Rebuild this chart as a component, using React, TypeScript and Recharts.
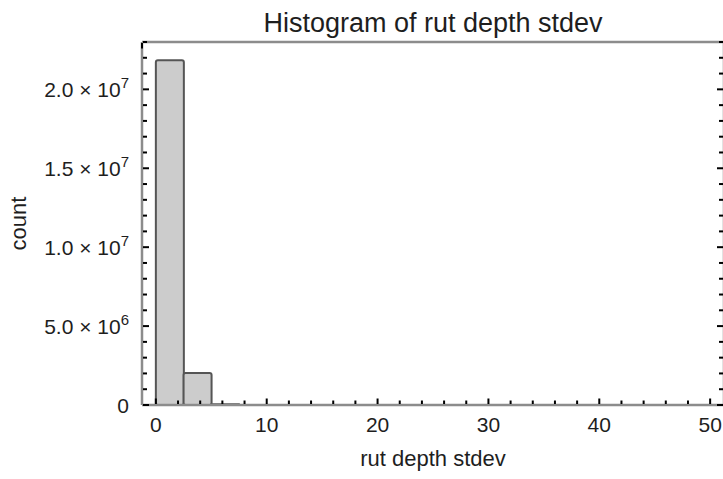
import React from 'react';
import { ComposedChart, Bar, XAxis, YAxis } from 'recharts';

// histogram bins (bin width 2.5), centres and counts
const binCenters = [1.25, 3.75, 6.25];
const binCounts = [21850000, 2030000, 40000];

const xTicks = [0, 2, 4, 6, 8, 10, 12, 14, 16, 18, 20, 22, 24, 26, 28, 30, 32, 34, 36, 38, 40, 42, 44, 46, 48, 50];
const xMajorTicks = [0, 10, 20, 30, 40, 50];

const yTicks = [
    0, 1000000, 2000000, 3000000, 4000000, 5000000, 6000000, 7000000, 8000000, 9000000,
    10000000, 11000000, 12000000, 13000000, 14000000, 15000000, 16000000, 17000000, 18000000,
    19000000, 20000000, 21000000, 22000000, 23000000,
];
const yMajorTicks = [0, 5000000, 10000000, 15000000, 20000000];
const yMantissas = ['0', '5.0', '1.0', '1.5', '2.0'];
const yExponents = ['', '6', '7', '7', '7'];

const data = binCenters.map((x, i) => ({ x, count: binCounts[i] }));

const FONT = '"Liberation Sans", Arial, sans-serif';
const TEXT = '#1e1e1e';
const FRAME = '#8c8c8c';
const TICK = '#000';

const BottomTick = (props: any) => {
    const { x, y, payload } = props;
    const major = xMajorTicks.includes(payload.value);
    return (
        <g>
            <line x1={x} x2={x} y1={y - 1} y2={y - (major ? 6.5 : 4.5)} stroke={TICK} strokeWidth={2} />
            {major && (
                <text x={x} y={y + 27} textAnchor="middle" fontSize={21} fontFamily={FONT} fill={TEXT}>
                    {payload.value}
                </text>
            )}
        </g>
    );
};

const TopTick = (props: any) => {
    const { x, y, payload } = props;
    const major = xMajorTicks.includes(payload.value);
    return <line x1={x} x2={x} y1={y + 1} y2={y + (major ? 6.5 : 4.5)} stroke={TICK} strokeWidth={2} />;
};

const LeftTick = (props: any) => {
    const { x, y, payload } = props;
    const idx = yMajorTicks.indexOf(payload.value);
    const major = idx >= 0;
    return (
        <g>
            <line x1={x + 1} x2={x + (major ? 7 : 5)} y1={y} y2={y} stroke={TICK} strokeWidth={2} />
            {major && (
                <text x={x - 13} y={y + 7.5} textAnchor="end" fontSize={21} fontFamily={FONT} fill={TEXT}>
                    {yExponents[idx] ? `${yMantissas[idx]} \u00d7 10` : yMantissas[idx]}
                    {yExponents[idx] && (
                        <tspan dy={-9} fontSize={15}>{yExponents[idx]}</tspan>
                    )}
                </text>
            )}
        </g>
    );
};

const RightTick = (props: any) => {
    const { x, y, payload } = props;
    const major = yMajorTicks.includes(payload.value);
    return <line x1={x - 1} x2={x - (major ? 7 : 5)} y1={y} y2={y} stroke={TICK} strokeWidth={2} />;
};

const App: React.FC = () => {
    return (
        <div style={{ position: 'absolute', left: 0, top: 0, width: 723, height: 479, overflow: 'hidden', background: '#fff' }}>
            <ComposedChart
                width={726}
                height={479}
                data={data}
                margin={{ top: 41, right: 1, bottom: 0, left: 0 }}
                barCategoryGap={0}
                barGap={0}
            >
                <XAxis
                    xAxisId="bottom"
                    dataKey="x"
                    type="number"
                    domain={[-1.25, 51.25]}
                    allowDataOverflow
                    ticks={xTicks}
                    interval={0}
                    height={74}
                    tickSize={0}
                    tickMargin={0}
                    tickLine={false}
                    tick={<BottomTick />}
                    axisLine={{ stroke: FRAME, strokeWidth: 2.5 }}
                    label={{ value: 'rut depth stdev', position: 'insideBottom', offset: 13, fontSize: 22, fontFamily: FONT, fill: TEXT }}
                />
                <XAxis
                    xAxisId="top"
                    orientation="top"
                    type="number"
                    domain={[-1.25, 51.25]}
                    allowDataOverflow
                    ticks={xTicks}
                    interval={0}
                    height={1}
                    tickSize={0}
                    tickMargin={0}
                    tickLine={false}
                    tick={<TopTick />}
                    axisLine={{ stroke: FRAME, strokeWidth: 2.5 }}
                    label={{ value: 'Histogram of rut depth stdev', position: 'top', offset: 9, fontSize: 27, fontFamily: FONT, fill: TEXT }}
                />
                <YAxis
                    yAxisId="left"
                    type="number"
                    domain={[0, 23000000]}
                    allowDataOverflow
                    ticks={yTicks}
                    interval={0}
                    width={142}
                    tickSize={0}
                    tickMargin={0}
                    tickLine={false}
                    tick={<LeftTick />}
                    axisLine={{ stroke: FRAME, strokeWidth: 2.5 }}
                    label={{ value: 'count', angle: -90, position: 'center', dx: -53, fontSize: 22, fontFamily: FONT, fill: TEXT }}
                />
                <YAxis
                    yAxisId="right"
                    orientation="right"
                    type="number"
                    domain={[0, 23000000]}
                    allowDataOverflow
                    ticks={yTicks}
                    interval={0}
                    width={1}
                    tickSize={0}
                    tickMargin={0}
                    tickLine={false}
                    tick={<RightTick />}
                    axisLine={{ stroke: FRAME, strokeWidth: 2.5 }}
                />
                <Bar
                    xAxisId="bottom"
                    yAxisId="left"
                    dataKey="count"
                    fill="#cccccc"
                    stroke="#555555"
                    strokeWidth={2}
                    radius={2}
                    isAnimationActive={false}
                />
            </ComposedChart>
        </div>
    );
};

export default App;
